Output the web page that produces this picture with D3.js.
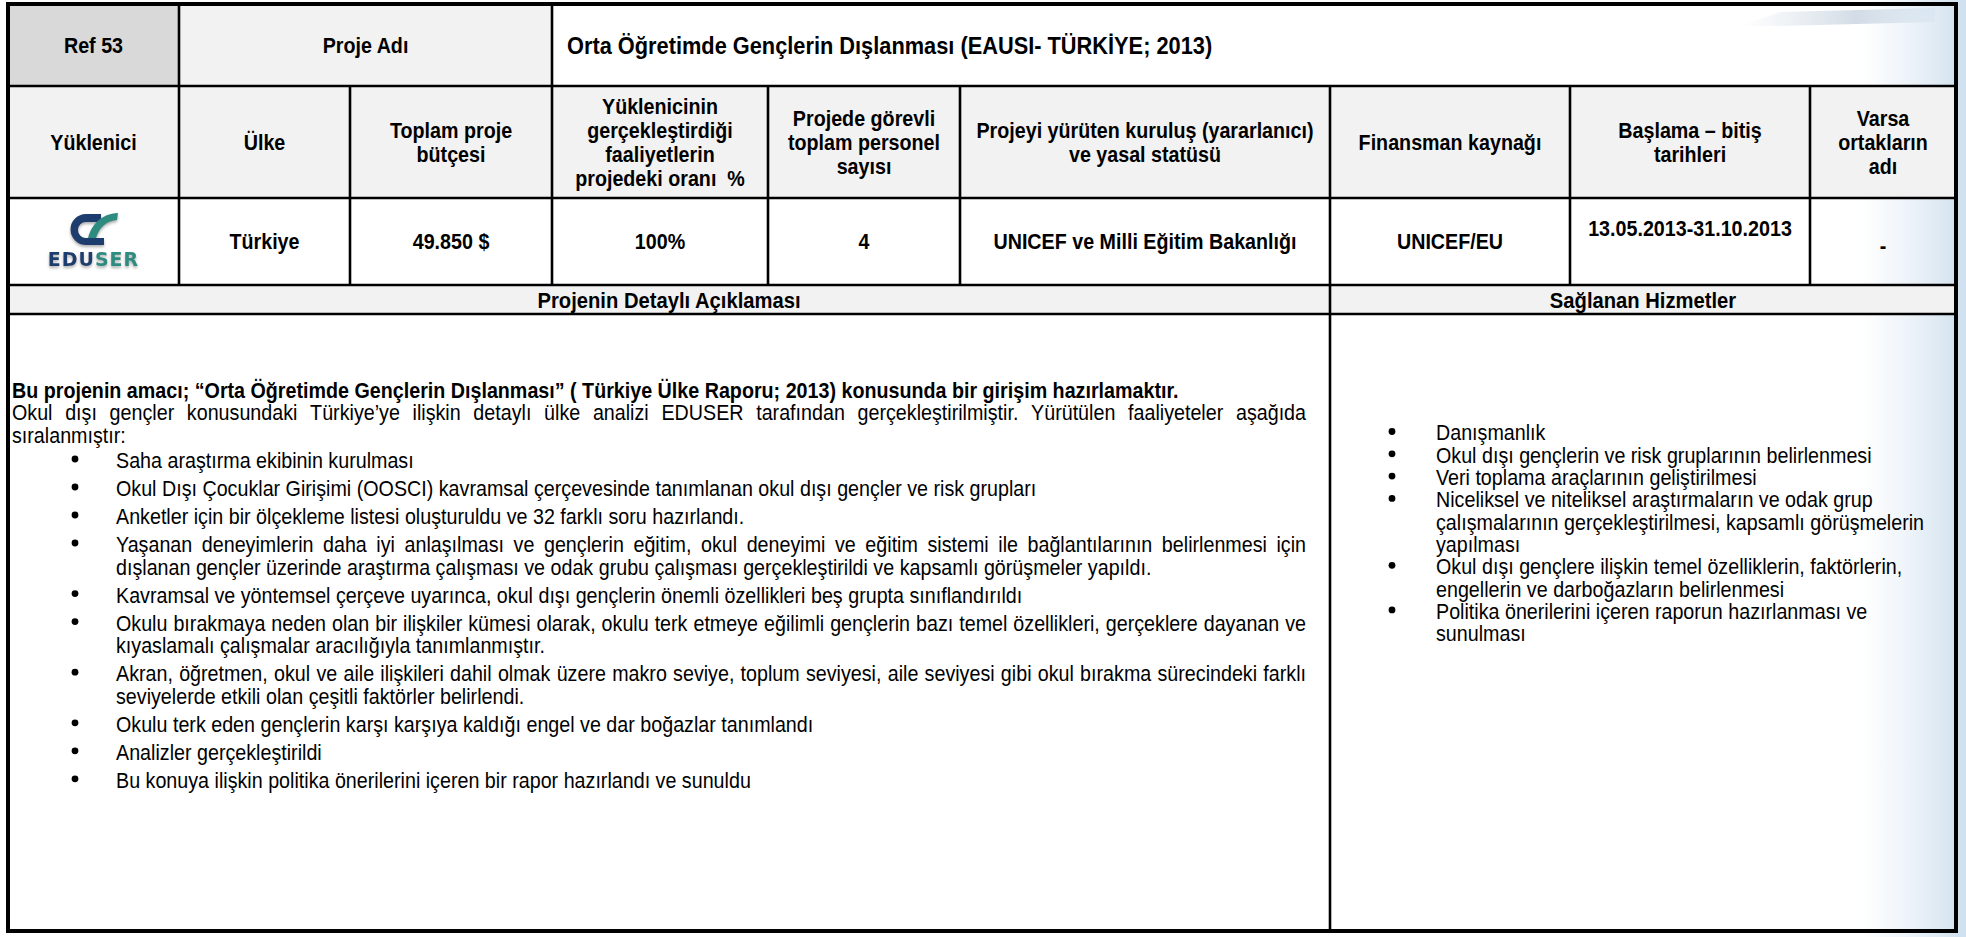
<!DOCTYPE html>
<html><head><meta charset="utf-8">
<script src="https://cdn.jsdelivr.net/npm/d3@7"></script>
<style>html,body{margin:0;padding:0;background:#fff;overflow:hidden}</style>
</head><body>
<svg id="chart" width="1966" height="937"></svg>
<script>
// ---------------- data ----------------
const refLabel = "Ref 53";
const projectNameLabel = "Proje Adı";
const projectTitle = "Orta Öğretimde Gençlerin Dışlanması (EAUSI- TÜRKİYE; 2013)";
const columnHeaders = [
  ["Yüklenici"],
  ["Ülke"],
  ["Toplam proje", "bütçesi"],
  ["Yüklenicinin", "gerçekleştirdiği", "faaliyetlerin", "projedeki oranı  %"],
  ["Projede görevli", "toplam personel", "sayısı"],
  ["Projeyi yürüten kuruluş (yararlanıcı)", "ve yasal statüsü"],
  ["Finansman kaynağı"],
  ["Başlama – bitiş", "tarihleri"],
  ["Varsa", "ortakların", "adı"]
];
const rowValues = [null, "Türkiye", "49.850 $", "100%", "4", "UNICEF ve Milli Eğitim Bakanlığı", "UNICEF/EU", "13.05.2013-31.10.2013", "-"];
const logoParts = ["EDU", "SER"];
const sectionTitles = ["Projenin Detaylı Açıklaması", "Sağlanan Hizmetler"];
const introBold = "Bu projenin amacı; “Orta Öğretimde Gençlerin Dışlanması” ( Türkiye Ülke Raporu; 2013) konusunda bir girişim hazırlamaktır.";
const introLines = [
  "Okul dışı gençler konusundaki Türkiye’ye ilişkin detaylı ülke analizi EDUSER tarafından gerçekleştirilmiştir. Yürütülen faaliyeteler aşağıda",
  "sıralanmıştır:"
];
const activities = [
  ["Saha araştırma ekibinin kurulması"],
  ["Okul Dışı Çocuklar Girişimi (OOSCI) kavramsal çerçevesinde tanımlanan okul dışı gençler ve risk grupları"],
  ["Anketler için bir ölçekleme listesi oluşturuldu ve 32 farklı soru hazırlandı."],
  ["Yaşanan deneyimlerin daha iyi anlaşılması ve gençlerin eğitim, okul deneyimi ve eğitim sistemi ile bağlantılarının belirlenmesi için",
   "dışlanan gençler üzerinde araştırma çalışması ve odak grubu çalışması gerçekleştirildi ve kapsamlı görüşmeler yapıldı."],
  ["Kavramsal ve yöntemsel çerçeve uyarınca, okul dışı gençlerin önemli özellikleri beş grupta sınıflandırıldı"],
  ["Okulu bırakmaya neden olan bir ilişkiler kümesi olarak, okulu terk etmeye eğilimli gençlerin bazı temel özellikleri, gerçeklere dayanan ve",
   "kıyaslamalı çalışmalar aracılığıyla tanımlanmıştır."],
  ["Akran, öğretmen, okul ve aile ilişkileri dahil olmak üzere makro seviye, toplum seviyesi, aile seviyesi gibi okul bırakma sürecindeki farklı",
   "seviyelerde etkili olan çeşitli faktörler belirlendi."],
  ["Okulu terk eden gençlerin karşı karşıya kaldığı engel ve dar boğazlar tanımlandı"],
  ["Analizler gerçekleştirildi"],
  ["Bu konuya ilişkin politika önerilerini içeren bir rapor hazırlandı ve sunuldu"]
];
const services = [
  ["Danışmanlık"],
  ["Okul dışı gençlerin ve risk gruplarının belirlenmesi"],
  ["Veri toplama araçlarının geliştirilmesi"],
  ["Niceliksel ve niteliksel araştırmaların ve odak grup", "çalışmalarının gerçekleştirilmesi, kapsamlı görüşmelerin", "yapılması"],
  ["Okul dışı gençlere ilişkin temel özelliklerin, faktörlerin,", "engellerin ve darboğazların belirlenmesi"],
  ["Politika önerilerini içeren raporun hazırlanması ve", "sunulması"]
];

// ---------------- layout ----------------
const W = 1966, H = 937;
const colX = [8, 179, 350, 552, 768, 960, 1330, 1570, 1810, 1956];
const rowY = [4, 86, 198, 285, 314, 931];
const FS = 19.7;         // body / header font size
const FS_TITLE = 21.8;
const SY = 1.12;         // slight vertical stretch (condensed look of the original)
const HDR_STEP = 24;
const BODY_WRAP = 22.6, BODY_ITEM = 28, SERVICE_STEP = 22.3;
const FAMILY = "'Liberation Sans',Arial,Helvetica,sans-serif";

const svg = d3.select("#chart");
const defs = svg.append("defs");
const grad = defs.append("linearGradient").attr("id", "edge").attr("x1", 0).attr("x2", 1).attr("y1", 0).attr("y2", 0);
grad.append("stop").attr("offset", "0%").attr("stop-color", "#dbe8f3").attr("stop-opacity", 0);
grad.append("stop").attr("offset", "100%").attr("stop-color", "#c9dcec").attr("stop-opacity", 0.9);
const grad2 = defs.append("linearGradient").attr("id", "streak").attr("x1", 0).attr("x2", 1);
grad2.append("stop").attr("offset", "0%").attr("stop-color", "#c7d3df").attr("stop-opacity", 0);
grad2.append("stop").attr("offset", "60%").attr("stop-color", "#b9c8d8").attr("stop-opacity", 0.8);
grad2.append("stop").attr("offset", "100%").attr("stop-color", "#d3e1ee").attr("stop-opacity", 0.5);
const shadow = defs.append("filter").attr("id", "shadow").attr("x", "-20%").attr("y", "-20%").attr("width", "140%").attr("height", "160%");
shadow.append("feDropShadow").attr("dx", 0).attr("dy", 2).attr("stdDeviation", 1.5).attr("flood-color", "#777").attr("flood-opacity", 0.6);

const measurer = svg.append("text").attr("visibility", "hidden").attr("font-family", FAMILY);
function measure(s, size, weight) {
  measurer.attr("font-size", size).attr("font-weight", weight).text(s);
  return measurer.node().getComputedTextLength();
}
function txt(g, x, cy, s, o = {}) {
  const size = o.size || FS, weight = o.weight || "bold";
  return g.append("text")
    .attr("transform", `translate(${x},${cy + size * 0.36 * SY}) scale(1,${SY})`)
    .attr("text-anchor", o.anchor || "start")
    .attr("font-family", FAMILY).attr("font-size", size).attr("font-weight", weight)
    .attr("fill", o.fill || "#000")
    .style("white-space", "pre").text(s);
}
function justified(g, x0, x1, cy, line, o = {}) {
  const size = o.size || FS, weight = o.weight || "normal";
  const words = line.split(" ");
  const widths = words.map(w => measure(w, size, weight));
  const gap = (x1 - x0 - d3.sum(widths)) / (words.length - 1);
  const t = g.append("text")
    .attr("transform", `translate(${x0},${cy + size * 0.36 * SY}) scale(1,${SY})`)
    .attr("font-family", FAMILY).attr("font-size", size).attr("font-weight", weight).attr("fill", "#000");
  let x = x0;
  words.forEach((w, i) => { t.append("tspan").attr("x", x - x0).text(w); x += widths[i] + gap; });
}

// ---------------- background decoration ----------------
svg.append("rect").attr("x", 1860).attr("y", 0).attr("width", 106).attr("height", H).attr("fill", "url(#edge)");
svg.append("path").attr("d", "M1740,26 L1780,12 L1935,8 L1935,22 L1780,26 Z").attr("fill", "url(#streak)").attr("opacity", 0.8);

// ---------------- cell fills ----------------
const cells = svg.append("g");
cells.append("rect").attr("x", colX[0]).attr("y", rowY[0]).attr("width", colX[1] - colX[0]).attr("height", rowY[1] - rowY[0]).attr("fill", "#d9d9d9");
cells.append("rect").attr("x", colX[1]).attr("y", rowY[0]).attr("width", colX[3] - colX[1]).attr("height", rowY[1] - rowY[0]).attr("fill", "#f2f2f2");
cells.append("rect").attr("x", colX[0]).attr("y", rowY[1]).attr("width", colX[9] - colX[0]).attr("height", rowY[2] - rowY[1]).attr("fill", "#f2f2f2");
cells.append("rect").attr("x", colX[0]).attr("y", rowY[3]).attr("width", colX[9] - colX[0]).attr("height", rowY[4] - rowY[3]).attr("fill", "#f2f2f2");

// ---------------- texts ----------------
const tg = svg.append("g");
const mid = (a, b) => (a + b) / 2;
txt(tg, mid(colX[0], colX[1]), mid(rowY[0], rowY[1]), refLabel, { anchor: "middle" });
txt(tg, mid(colX[1], colX[3]), mid(rowY[0], rowY[1]), projectNameLabel, { anchor: "middle" });
txt(tg, colX[3] + 15, mid(rowY[0], rowY[1]), projectTitle, { size: FS_TITLE });

columnHeaders.forEach((lines, i) => {
  const cx = mid(colX[i], colX[i + 1]), cy = mid(rowY[1], rowY[2]);
  lines.forEach((l, j) => txt(tg, cx, cy + (j - (lines.length - 1) / 2) * HDR_STEP, l, { anchor: "middle" }));
});

rowValues.forEach((v, i) => {
  if (v === null) return;
  const cx = mid(colX[i], colX[i + 1]);
  let cy = mid(rowY[2], rowY[3]);
  if (i === 7) cy -= 13;
  if (i === 8) cy += 4;
  txt(tg, cx, cy, v, { anchor: "middle" });
});

// logo
const logo = svg.append("g").attr("filter", "url(#shadow)");
const navy = "#1d3d6e", teal = "#2e8b80";
logo.append("path").attr("fill", navy)
  .attr("d", "M101,214 L86,214 A15.5,15.5 0 0 0 86,245 L104,245 L104,238 L86,238 A8,8 0 0 1 86,222 L101,222 Z");
logo.append("path").attr("fill", teal)
  .attr("d", "M88,238 C92,224 101,214 118,213 L117,220 C105,221 99,229 96,238 Z");
const lt = logo.append("text").attr("x", mid(colX[0], colX[1])).attr("y", 266).attr("text-anchor", "middle")
  .attr("font-family", "'DejaVu Sans',sans-serif").attr("font-weight", "bold").attr("font-size", 19).attr("letter-spacing", 1);
lt.append("tspan").attr("fill", navy).text(logoParts[0]);
lt.append("tspan").attr("fill", teal).text(logoParts[1]);

// section titles
txt(tg, mid(colX[0], colX[6]), mid(rowY[3], rowY[4]), sectionTitles[0], { anchor: "middle", size: 20.2 });
txt(tg, mid(colX[6], colX[9]), mid(rowY[3], rowY[4]), sectionTitles[1], { anchor: "middle", size: 20.2 });

// body left
const bx0 = 12, bx1 = 1306, bulletX = 75, textX = 116;
txt(tg, bx0, 390, introBold);
justified(tg, bx0, bx1, 412.5, introLines[0]);
txt(tg, bx0, 412.5 + BODY_WRAP, introLines[1], { weight: "normal" });

let y = 460;
activities.forEach((lines, i) => {
  if (i > 0) y += BODY_ITEM;
  tg.append("circle").attr("cx", bulletX).attr("cy", y - 1).attr("r", 3.4).attr("fill", "#000");
  lines.forEach((l, j) => {
    if (j > 0) y += BODY_WRAP;
    if (j < lines.length - 1) justified(tg, textX, bx1, y, l);
    else txt(tg, textX, y, l, { weight: "normal" });
  });
});

// body right
let ry = 432.5;
const rBullet = 1392, rText = 1436;
services.forEach((lines, i) => {
  tg.append("circle").attr("cx", rBullet).attr("cy", ry - 1).attr("r", 3.4).attr("fill", "#000");
  lines.forEach((l, j) => { txt(tg, rText, ry, l, { weight: "normal" }); ry += SERVICE_STEP; });
});

// ---------------- grid lines ----------------
const lg = svg.append("g").attr("stroke", "#000").attr("stroke-width", 2.6).attr("fill", "none");
[rowY[1], rowY[2], rowY[3], rowY[4]].forEach(yy => lg.append("line").attr("x1", colX[0]).attr("x2", colX[9]).attr("y1", yy).attr("y2", yy));
[colX[1], colX[3]].forEach(xx => lg.append("line").attr("x1", xx).attr("x2", xx).attr("y1", rowY[0]).attr("y2", rowY[1]));
colX.slice(1, 9).forEach(xx => lg.append("line").attr("x1", xx).attr("x2", xx).attr("y1", rowY[1]).attr("y2", rowY[3]));
lg.append("line").attr("x1", colX[6]).attr("x2", colX[6]).attr("y1", rowY[3]).attr("y2", rowY[5]);
svg.append("rect").attr("x", colX[0]).attr("y", rowY[0]).attr("width", colX[9] - colX[0]).attr("height", rowY[5] - rowY[0])
  .attr("fill", "none").attr("stroke", "#000").attr("stroke-width", 4);
</script>
</body></html>
